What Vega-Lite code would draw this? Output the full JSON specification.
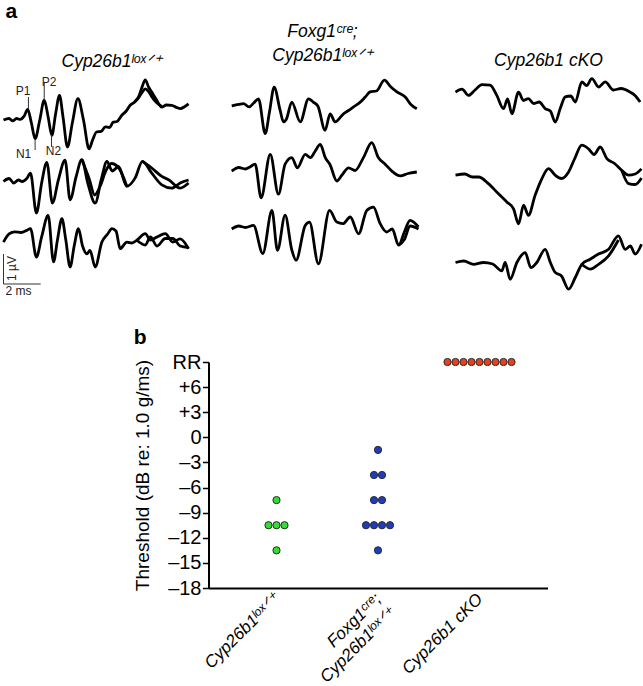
{
  "$schema": "https://vega.github.io/schema/vega-lite/v6.json",
  "padding": {"left": -2.5, "top": 0, "right": 0, "bottom": 0},
  "background": "white",
  "config": {
    "view": {"stroke": null},
    "font": "Liberation Sans",
    "title": {"font": "Liberation Sans", "color": "black", "fontWeight": "normal"}
  },
  "datasets": {
    "traces": [
      {"c":1,"id":"1a","t":0,"v":0.0},{"c":1,"id":"1a","t":0.3,"v":0.05},{"c":1,"id":"1a","t":0.5,"v":-0.03},{"c":1,"id":"1a","t":0.7,"v":0.05},{"c":1,"id":"1a","t":0.9,"v":0.02},{"c":1,"id":"1a","t":1.1,"v":0.12},{"c":1,"id":"1a","t":1.3,"v":0.35},{"c":1,"id":"1a","t":1.5,"v":-0.1},{"c":1,"id":"1a","t":1.7,"v":-0.62},{"c":1,"id":"1a","t":1.95,"v":0.0},{"c":1,"id":"1a","t":2.19,"v":0.66},{"c":1,"id":"1a","t":2.4,"v":0.1},{"c":1,"id":"1a","t":2.6,"v":-0.51},{"c":1,"id":"1a","t":2.8,"v":0.2},{"c":1,"id":"1a","t":3.01,"v":0.82},{"c":1,"id":"1a","t":3.2,"v":0.1},{"c":1,"id":"1a","t":3.44,"v":-0.9},{"c":1,"id":"1a","t":3.7,"v":-0.1},{"c":1,"id":"1a","t":4.0,"v":0.71},{"c":1,"id":"1a","t":4.3,"v":0.0},{"c":1,"id":"1a","t":4.6,"v":-0.96},{"c":1,"id":"1a","t":4.8,"v":-0.65},{"c":1,"id":"1a","t":5.0,"v":-0.4},{"c":1,"id":"1a","t":5.25,"v":-0.38},{"c":1,"id":"1a","t":5.47,"v":-0.23},{"c":1,"id":"1a","t":5.7,"v":-0.25},{"c":1,"id":"1a","t":5.9,"v":-0.07},{"c":1,"id":"1a","t":6.1,"v":-0.05},{"c":1,"id":"1a","t":6.36,"v":0.16},{"c":1,"id":"1a","t":6.6,"v":0.3},{"c":1,"id":"1a","t":6.81,"v":0.49},{"c":1,"id":"1a","t":7.05,"v":0.6},{"c":1,"id":"1a","t":7.26,"v":0.77},{"c":1,"id":"1a","t":7.45,"v":1.1},{"c":1,"id":"1a","t":7.62,"v":1.34},{"c":1,"id":"1a","t":7.8,"v":1.1},{"c":1,"id":"1a","t":7.97,"v":0.93},{"c":1,"id":"1a","t":8.2,"v":0.7},{"c":1,"id":"1a","t":8.51,"v":0.43},{"c":1,"id":"1a","t":8.75,"v":0.5},{"c":1,"id":"1a","t":9.05,"v":0.49},{"c":1,"id":"1a","t":9.3,"v":0.42},{"c":1,"id":"1a","t":9.5,"v":0.38},{"c":1,"id":"1a","t":9.75,"v":0.45},{"c":1,"id":"1a","t":9.95,"v":0.54},
      {"c":1,"id":"1b","t":7.05,"v":0.6},{"c":1,"id":"1b","t":7.26,"v":0.74},{"c":1,"id":"1b","t":7.45,"v":0.92},{"c":1,"id":"1b","t":7.62,"v":1.04},{"c":1,"id":"1b","t":7.8,"v":0.95},{"c":1,"id":"1b","t":7.97,"v":0.78},{"c":1,"id":"1b","t":8.2,"v":0.6},{"c":1,"id":"1b","t":8.51,"v":0.45},
      {"c":1,"id":"2a","t":0,"v":-2.05},{"c":1,"id":"2a","t":0.3,"v":-1.95},{"c":1,"id":"2a","t":0.55,"v":-2.1},{"c":1,"id":"2a","t":0.8,"v":-2.0},{"c":1,"id":"2a","t":1.0,"v":-2.05},{"c":1,"id":"2a","t":1.25,"v":-1.95},{"c":1,"id":"2a","t":1.45,"v":-1.77},{"c":1,"id":"2a","t":1.77,"v":-3.1},{"c":1,"id":"2a","t":2.05,"v":-2.1},{"c":1,"id":"2a","t":2.33,"v":-1.41},{"c":1,"id":"2a","t":2.63,"v":-2.77},{"c":1,"id":"2a","t":2.95,"v":-2.0},{"c":1,"id":"2a","t":3.31,"v":-1.34},{"c":1,"id":"2a","t":3.58,"v":-2.66},{"c":1,"id":"2a","t":3.9,"v":-1.9},{"c":1,"id":"2a","t":4.21,"v":-1.32},{"c":1,"id":"2a","t":4.53,"v":-2.1},{"c":1,"id":"2a","t":4.93,"v":-2.77},{"c":1,"id":"2a","t":5.25,"v":-2.0},{"c":1,"id":"2a","t":5.56,"v":-1.38},{"c":1,"id":"2a","t":5.85,"v":-1.7},{"c":1,"id":"2a","t":6.18,"v":-1.55},{"c":1,"id":"2a","t":6.63,"v":-2.21},{"c":1,"id":"2a","t":7.08,"v":-1.93},{"c":1,"id":"2a","t":7.47,"v":-1.38},{"c":1,"id":"2a","t":7.97,"v":-1.77},{"c":1,"id":"2a","t":8.51,"v":-2.16},{"c":1,"id":"2a","t":9.05,"v":-2.27},{"c":1,"id":"2a","t":9.5,"v":-2.1},{"c":1,"id":"2a","t":9.95,"v":-2.0},
      {"c":1,"id":"2b","t":4.21,"v":-1.32},{"c":1,"id":"2b","t":4.6,"v":-1.95},{"c":1,"id":"2b","t":4.9,"v":-2.5},{"c":1,"id":"2b","t":5.2,"v":-2.2},{"c":1,"id":"2b","t":5.5,"v":-1.7},{"c":1,"id":"2b","t":5.8,"v":-1.45},{"c":1,"id":"2b","t":6.2,"v":-1.6},{"c":1,"id":"2b","t":6.63,"v":-2.21},
      {"c":1,"id":"2c","t":7.47,"v":-1.38},{"c":1,"id":"2c","t":7.97,"v":-1.6},{"c":1,"id":"2c","t":8.51,"v":-1.88},{"c":1,"id":"2c","t":8.9,"v":-2.0},{"c":1,"id":"2c","t":9.5,"v":-2.27},{"c":1,"id":"2c","t":9.95,"v":-2.1},
      {"c":1,"id":"3a","t":0,"v":-4.07},{"c":1,"id":"3a","t":0.3,"v":-3.8},{"c":1,"id":"3a","t":0.6,"v":-3.73},{"c":1,"id":"3a","t":0.95,"v":-3.75},{"c":1,"id":"3a","t":1.25,"v":-3.68},{"c":1,"id":"3a","t":1.45,"v":-3.62},{"c":1,"id":"3a","t":1.77,"v":-4.57},{"c":1,"id":"3a","t":2.05,"v":-3.9},{"c":1,"id":"3a","t":2.4,"v":-3.18},{"c":1,"id":"3a","t":2.69,"v":-4.73},{"c":1,"id":"3a","t":2.9,"v":-4.0},{"c":1,"id":"3a","t":3.14,"v":-3.29},{"c":1,"id":"3a","t":3.35,"v":-4.0},{"c":1,"id":"3a","t":3.58,"v":-4.9},{"c":1,"id":"3a","t":3.8,"v":-4.2},{"c":1,"id":"3a","t":4.03,"v":-3.62},{"c":1,"id":"3a","t":4.25,"v":-4.2},{"c":1,"id":"3a","t":4.48,"v":-4.46},{"c":1,"id":"3a","t":4.65,"v":-4.35},{"c":1,"id":"3a","t":4.93,"v":-4.9},{"c":1,"id":"3a","t":5.29,"v":-4.07},{"c":1,"id":"3a","t":5.6,"v":-3.8},{"c":1,"id":"3a","t":5.83,"v":-3.62},{"c":1,"id":"3a","t":6.05,"v":-3.7},{"c":1,"id":"3a","t":6.27,"v":-4.29},{"c":1,"id":"3a","t":6.63,"v":-4.07},{"c":1,"id":"3a","t":6.9,"v":-4.1},{"c":1,"id":"3a","t":7.17,"v":-4.01},{"c":1,"id":"3a","t":7.62,"v":-3.79},{"c":1,"id":"3a","t":7.9,"v":-4.0},{"c":1,"id":"3a","t":8.25,"v":-3.9},{"c":1,"id":"3a","t":8.7,"v":-3.79},{"c":1,"id":"3a","t":9.1,"v":-4.07},{"c":1,"id":"3a","t":9.5,"v":-3.96},{"c":1,"id":"3a","t":9.95,"v":-4.29},
      {"c":1,"id":"3b","t":7.17,"v":-4.01},{"c":1,"id":"3b","t":7.62,"v":-4.17},{"c":1,"id":"3b","t":7.9,"v":-3.9},{"c":1,"id":"3b","t":8.25,"v":-4.2},{"c":1,"id":"3b","t":8.7,"v":-3.95},{"c":1,"id":"3b","t":9.1,"v":-3.95},{"c":1,"id":"3b","t":9.5,"v":-4.2},{"c":1,"id":"3b","t":9.95,"v":-4.25},
      {"c":2,"id":"4a","t":0.12,"v":0.0},{"c":2,"id":"4a","t":0.5,"v":0.05},{"c":2,"id":"4a","t":0.75,"v":0.08},{"c":2,"id":"4a","t":1.05,"v":-0.03},{"c":2,"id":"4a","t":1.3,"v":0.1},{"c":2,"id":"4a","t":1.56,"v":0.24},{"c":2,"id":"4a","t":1.92,"v":-0.92},{"c":2,"id":"4a","t":2.15,"v":-0.2},{"c":2,"id":"4a","t":2.4,"v":0.63},{"c":2,"id":"4a","t":2.72,"v":-0.14},{"c":2,"id":"4a","t":2.9,"v":-0.53},{"c":2,"id":"4a","t":3.05,"v":-0.45},{"c":2,"id":"4a","t":3.35,"v":0.13},{"c":2,"id":"4a","t":3.8,"v":-0.53},{"c":2,"id":"4a","t":4.25,"v":0.24},{"c":2,"id":"4a","t":4.5,"v":0.13},{"c":2,"id":"4a","t":4.75,"v":0.0},{"c":2,"id":"4a","t":5.14,"v":-0.81},{"c":2,"id":"4a","t":5.41,"v":-0.26},{"c":2,"id":"4a","t":5.68,"v":-0.53},{"c":2,"id":"4a","t":6.13,"v":-0.26},{"c":2,"id":"4a","t":6.4,"v":-0.15},{"c":2,"id":"4a","t":6.67,"v":-0.03},{"c":2,"id":"4a","t":7.03,"v":0.13},{"c":2,"id":"4a","t":7.3,"v":0.3},{"c":2,"id":"4a","t":7.56,"v":0.47},{"c":2,"id":"4a","t":7.9,"v":0.5},{"c":2,"id":"4a","t":8.33,"v":0.86},{"c":2,"id":"4a","t":8.65,"v":0.65},{"c":2,"id":"4a","t":9.0,"v":0.47},{"c":2,"id":"4a","t":9.45,"v":0.3},{"c":2,"id":"4a","t":9.75,"v":0.05},{"c":2,"id":"4a","t":10.07,"v":-0.09},
      {"c":2,"id":"5a","t":0.12,"v":-2.17},{"c":2,"id":"5a","t":0.5,"v":-2.05},{"c":2,"id":"5a","t":0.85,"v":-2.1},{"c":2,"id":"5a","t":1.1,"v":-2.03},{"c":2,"id":"5a","t":1.38,"v":-1.94},{"c":2,"id":"5a","t":1.7,"v":-3.06},{"c":2,"id":"5a","t":2.19,"v":-1.61},{"c":2,"id":"5a","t":2.63,"v":-2.94},{"c":2,"id":"5a","t":2.99,"v":-1.94},{"c":2,"id":"5a","t":3.35,"v":-1.72},{"c":2,"id":"5a","t":3.65,"v":-2.06},{"c":2,"id":"5a","t":4.07,"v":-1.61},{"c":2,"id":"5a","t":4.35,"v":-1.72},{"c":2,"id":"5a","t":4.61,"v":-1.5},{"c":2,"id":"5a","t":4.88,"v":-1.28},{"c":2,"id":"5a","t":5.15,"v":-1.72},{"c":2,"id":"5a","t":5.4,"v":-1.95},{"c":2,"id":"5a","t":5.77,"v":-2.5},{"c":2,"id":"5a","t":6.05,"v":-2.3},{"c":2,"id":"5a","t":6.4,"v":-2.06},{"c":2,"id":"5a","t":6.75,"v":-2.15},{"c":2,"id":"5a","t":7.2,"v":-1.72},{"c":2,"id":"5a","t":7.65,"v":-1.22},{"c":2,"id":"5a","t":8.0,"v":-1.72},{"c":2,"id":"5a","t":8.37,"v":-1.94},{"c":2,"id":"5a","t":8.73,"v":-2.17},{"c":2,"id":"5a","t":9.18,"v":-2.33},{"c":2,"id":"5a","t":9.6,"v":-2.25},{"c":2,"id":"5a","t":10.07,"v":-2.2},
      {"c":2,"id":"6a","t":0.12,"v":-4.1},{"c":2,"id":"6a","t":0.5,"v":-4.0},{"c":2,"id":"6a","t":0.85,"v":-4.05},{"c":2,"id":"6a","t":1.29,"v":-3.98},{"c":2,"id":"6a","t":1.79,"v":-4.92},{"c":2,"id":"6a","t":2.28,"v":-3.48},{"c":2,"id":"6a","t":2.58,"v":-4.81},{"c":2,"id":"6a","t":2.99,"v":-3.64},{"c":2,"id":"6a","t":3.35,"v":-4.8},{"c":2,"id":"6a","t":3.58,"v":-5.14},{"c":2,"id":"6a","t":4.07,"v":-3.98},{"c":2,"id":"6a","t":4.3,"v":-3.87},{"c":2,"id":"6a","t":4.78,"v":-5.26},{"c":2,"id":"6a","t":5.38,"v":-3.48},{"c":2,"id":"6a","t":5.77,"v":-3.87},{"c":2,"id":"6a","t":6.1,"v":-3.92},{"c":2,"id":"6a","t":6.49,"v":-3.7},{"c":2,"id":"6a","t":6.94,"v":-4.26},{"c":2,"id":"6a","t":7.38,"v":-3.48},{"c":2,"id":"6a","t":7.74,"v":-3.37},{"c":2,"id":"6a","t":8.1,"v":-3.92},{"c":2,"id":"6a","t":8.45,"v":-4.2},{"c":2,"id":"6a","t":8.75,"v":-4.1},{"c":2,"id":"6a","t":9.09,"v":-4.64},{"c":2,"id":"6a","t":9.4,"v":-4.2},{"c":2,"id":"6a","t":9.71,"v":-3.81},{"c":2,"id":"6a","t":10.16,"v":-4.03},
      {"c":2,"id":"6b","t":9.09,"v":-4.64},{"c":2,"id":"6b","t":9.4,"v":-4.45},{"c":2,"id":"6b","t":9.71,"v":-4.0},{"c":2,"id":"6b","t":10.16,"v":-4.1},
      {"c":3,"id":"7a","t":0,"v":-0.07},{"c":3,"id":"7a","t":0.35,"v":0.03},{"c":3,"id":"7a","t":0.7,"v":-0.18},{"c":3,"id":"7a","t":1.05,"v":0.0},{"c":3,"id":"7a","t":1.42,"v":0.18},{"c":3,"id":"7a","t":1.86,"v":0.16},{"c":3,"id":"7a","t":2.22,"v":-0.18},{"c":3,"id":"7a","t":2.58,"v":-0.62},{"c":3,"id":"7a","t":2.8,"v":-0.3},{"c":3,"id":"7a","t":3.03,"v":-0.79},{"c":3,"id":"7a","t":3.39,"v":-0.07},{"c":3,"id":"7a","t":3.65,"v":-0.35},{"c":3,"id":"7a","t":3.92,"v":-0.29},{"c":3,"id":"7a","t":4.2,"v":-0.45},{"c":3,"id":"7a","t":4.5,"v":-0.4},{"c":3,"id":"7a","t":4.82,"v":-0.62},{"c":3,"id":"7a","t":5.1,"v":-0.7},{"c":3,"id":"7a","t":5.36,"v":-1.07},{"c":3,"id":"7a","t":5.63,"v":-0.62},{"c":3,"id":"7a","t":5.9,"v":-0.23},{"c":3,"id":"7a","t":6.2,"v":-0.2},{"c":3,"id":"7a","t":6.44,"v":-0.4},{"c":3,"id":"7a","t":6.79,"v":0.27},{"c":3,"id":"7a","t":7.05,"v":0.15},{"c":3,"id":"7a","t":7.33,"v":0.38},{"c":3,"id":"7a","t":7.7,"v":0.1},{"c":3,"id":"7a","t":8.05,"v":0.27},{"c":3,"id":"7a","t":8.49,"v":0.0},{"c":3,"id":"7a","t":8.9,"v":0.05},{"c":3,"id":"7a","t":9.39,"v":-0.07},{"c":3,"id":"7a","t":9.65,"v":-0.18},{"c":3,"id":"7a","t":9.93,"v":-0.4},
      {"c":3,"id":"8a","t":0,"v":-2.84},{"c":3,"id":"8a","t":0.5,"v":-2.8},{"c":3,"id":"8a","t":0.9,"v":-2.9},{"c":3,"id":"8a","t":1.24,"v":-2.9},{"c":3,"id":"8a","t":1.77,"v":-3.12},{"c":3,"id":"8a","t":2.31,"v":-3.46},{"c":3,"id":"8a","t":2.76,"v":-3.73},{"c":3,"id":"8a","t":3.12,"v":-3.96},{"c":3,"id":"8a","t":3.39,"v":-4.46},{"c":3,"id":"8a","t":3.66,"v":-3.84},{"c":3,"id":"8a","t":3.92,"v":-4.18},{"c":3,"id":"8a","t":4.28,"v":-3.51},{"c":3,"id":"8a","t":4.64,"v":-2.96},{"c":3,"id":"8a","t":5.0,"v":-2.62},{"c":3,"id":"8a","t":5.36,"v":-2.84},{"c":3,"id":"8a","t":5.7,"v":-2.95},{"c":3,"id":"8a","t":6.08,"v":-2.73},{"c":3,"id":"8a","t":6.4,"v":-2.3},{"c":3,"id":"8a","t":6.79,"v":-1.84},{"c":3,"id":"8a","t":7.15,"v":-1.96},{"c":3,"id":"8a","t":7.45,"v":-2.15},{"c":3,"id":"8a","t":7.78,"v":-1.9},{"c":3,"id":"8a","t":8.14,"v":-2.29},{"c":3,"id":"8a","t":8.55,"v":-2.45},{"c":3,"id":"8a","t":8.94,"v":-2.68},{"c":3,"id":"8a","t":9.3,"v":-2.84},{"c":3,"id":"8a","t":9.66,"v":-2.8},{"c":3,"id":"8a","t":10.0,"v":-2.63},
      {"c":3,"id":"8b","t":8.94,"v":-2.68},{"c":3,"id":"8b","t":9.3,"v":-3.12},{"c":3,"id":"8b","t":9.66,"v":-3.15},{"c":3,"id":"8b","t":10.0,"v":-2.93},
      {"c":3,"id":"9a","t":0,"v":-5.75},{"c":3,"id":"9a","t":0.45,"v":-5.7},{"c":3,"id":"9a","t":0.97,"v":-5.81},{"c":3,"id":"9a","t":1.5,"v":-5.75},{"c":3,"id":"9a","t":2.0,"v":-5.8},{"c":3,"id":"9a","t":2.49,"v":-6.03},{"c":3,"id":"9a","t":2.67,"v":-5.75},{"c":3,"id":"9a","t":2.94,"v":-6.31},{"c":3,"id":"9a","t":3.3,"v":-5.75},{"c":3,"id":"9a","t":3.75,"v":-5.42},{"c":3,"id":"9a","t":4.05,"v":-5.92},{"c":3,"id":"9a","t":4.37,"v":-5.75},{"c":3,"id":"9a","t":4.82,"v":-5.31},{"c":3,"id":"9a","t":5.1,"v":-5.75},{"c":3,"id":"9a","t":5.36,"v":-6.08},{"c":3,"id":"9a","t":5.7,"v":-6.2},{"c":3,"id":"9a","t":6.08,"v":-6.64},{"c":3,"id":"9a","t":6.44,"v":-6.25},{"c":3,"id":"9a","t":6.79,"v":-5.81},{"c":3,"id":"9a","t":7.24,"v":-5.64},{"c":3,"id":"9a","t":7.69,"v":-5.47},{"c":3,"id":"9a","t":8.23,"v":-5.31},{"c":3,"id":"9a","t":8.76,"v":-4.86},{"c":3,"id":"9a","t":9.12,"v":-5.31},{"c":3,"id":"9a","t":9.4,"v":-5.2},{"c":3,"id":"9a","t":9.66,"v":-5.47},{"c":3,"id":"9a","t":10.0,"v":-5.14},
      {"c":3,"id":"9b","t":6.79,"v":-5.81},{"c":3,"id":"9b","t":7.24,"v":-5.97},{"c":3,"id":"9b","t":7.69,"v":-5.81},{"c":3,"id":"9b","t":8.23,"v":-5.53},{"c":3,"id":"9b","t":8.76,"v":-5.0}
    ],
    "ann": [
      {"kind":"rule","t":0,"t2":0,"v":-4.467,"v2":-5.467},
      {"kind":"rule","t":0,"t2":2,"v":-5.467,"v2":-5.467},
      {"kind":"rule","t":1.34,"t2":1.34,"v":0.767,"v2":0.367},
      {"kind":"rule","t":2.19,"t2":2.19,"v":1.267,"v2":0.667},
      {"kind":"rule","t":1.7,"t2":1.7,"v":-0.667,"v2":-1.0},
      {"kind":"rule","t":2.58,"t2":2.58,"v":-0.5,"v2":-0.9},
      {"kind":"text","t":1.05,"v":0.967,"label":"P1"},
      {"kind":"text","t":2.45,"v":1.283,"label":"P2"},
      {"kind":"text","t":1.08,"v":-1.15,"label":"N1"},
      {"kind":"text","t":2.69,"v":-1.05,"label":"N2"},
      {"kind":"text","t":0.81,"v":-5.7,"label":"2 ms"},
      {"kind":"vtext","t":0.48,"v":-4.95,"label":"1 µV"}
    ],
    "dots": [
      {"g":"Cyp26b1ˡᵒˣᐟ⁺","db":-7.5,"k":0},
      {"g":"Cyp26b1ˡᵒˣᐟ⁺","db":-10.5,"k":-1},
      {"g":"Cyp26b1ˡᵒˣᐟ⁺","db":-10.5,"k":0},
      {"g":"Cyp26b1ˡᵒˣᐟ⁺","db":-10.5,"k":1},
      {"g":"Cyp26b1ˡᵒˣᐟ⁺","db":-13.5,"k":0},
      {"g":"Foxg1ᶜʳᵉ;|Cyp26b1ˡᵒˣᐟ⁺","db":-1.5,"k":0},
      {"g":"Foxg1ᶜʳᵉ;|Cyp26b1ˡᵒˣᐟ⁺","db":-4.5,"k":-0.5},
      {"g":"Foxg1ᶜʳᵉ;|Cyp26b1ˡᵒˣᐟ⁺","db":-4.5,"k":0.5},
      {"g":"Foxg1ᶜʳᵉ;|Cyp26b1ˡᵒˣᐟ⁺","db":-7.5,"k":-0.5},
      {"g":"Foxg1ᶜʳᵉ;|Cyp26b1ˡᵒˣᐟ⁺","db":-7.5,"k":0.5},
      {"g":"Foxg1ᶜʳᵉ;|Cyp26b1ˡᵒˣᐟ⁺","db":-10.5,"k":-1.5},
      {"g":"Foxg1ᶜʳᵉ;|Cyp26b1ˡᵒˣᐟ⁺","db":-10.5,"k":-0.5},
      {"g":"Foxg1ᶜʳᵉ;|Cyp26b1ˡᵒˣᐟ⁺","db":-10.5,"k":0.5},
      {"g":"Foxg1ᶜʳᵉ;|Cyp26b1ˡᵒˣᐟ⁺","db":-10.5,"k":1.5},
      {"g":"Foxg1ᶜʳᵉ;|Cyp26b1ˡᵒˣᐟ⁺","db":-13.5,"k":0},
      {"g":"Cyp26b1 cKO","db":9,"k":-4},
      {"g":"Cyp26b1 cKO","db":9,"k":-3},
      {"g":"Cyp26b1 cKO","db":9,"k":-2},
      {"g":"Cyp26b1 cKO","db":9,"k":-1},
      {"g":"Cyp26b1 cKO","db":9,"k":0},
      {"g":"Cyp26b1 cKO","db":9,"k":1},
      {"g":"Cyp26b1 cKO","db":9,"k":2},
      {"g":"Cyp26b1 cKO","db":9,"k":3},
      {"g":"Cyp26b1 cKO","db":9,"k":4}
    ]
  },
  "align": "none",
  "spacing": 25,
  "vconcat": [
    {
      "title": {"text": "a", "anchor": "start", "frame": "group", "fontSize": 21, "fontWeight": "bold", "offset": 1, "dx": 2},
      "bounds": "flush",
      "spacing": 40,
      "hconcat": [
        {
          "title": {"text": "Cyp26b1ˡᵒˣᐟ⁺", "fontSize": 17.5, "fontStyle": "italic", "offset": 2, "anchor": "start", "frame": "group", "dx": 58},
          "width": 186, "height": 230,
          "layer": [
            {
              "data": {"name": "traces"},
              "transform": [{"filter": "datum.c == 1"}],
              "mark": {"type": "line", "interpolate": "monotone", "color": "black", "strokeWidth": 2.8},
              "encoding": {
                "x": {"field": "t", "type": "quantitative", "scale": {"domain": [0, 10], "nice": false, "zero": false}, "axis": null},
                "y": {"field": "v", "type": "quantitative", "scale": {"domain": [-6.067, 1.6], "nice": false, "zero": false}, "axis": null},
                "detail": {"field": "id"}
              }
            },
            {
              "data": {"name": "ann"},
              "transform": [{"filter": "datum.kind == 'rule'"}],
              "mark": {"type": "rule", "color": "#333", "strokeWidth": 1},
              "encoding": {
                "x": {"field": "t", "type": "quantitative"},
                "x2": {"field": "t2"},
                "y": {"field": "v", "type": "quantitative"},
                "y2": {"field": "v2"}
              }
            },
            {
              "data": {"name": "ann"},
              "transform": [{"filter": "datum.kind == 'text'"}],
              "mark": {"type": "text", "fontSize": 12, "align": "center", "baseline": "middle", "color": "#222"},
              "encoding": {
                "x": {"field": "t", "type": "quantitative"},
                "y": {"field": "v", "type": "quantitative"},
                "text": {"field": "label"}
              }
            },
            {
              "data": {"name": "ann"},
              "transform": [{"filter": "datum.kind == 'vtext'"}],
              "mark": {"type": "text", "fontSize": 12, "align": "center", "baseline": "middle", "angle": 270, "color": "#222"},
              "encoding": {
                "x": {"field": "t", "type": "quantitative"},
                "y": {"field": "v", "type": "quantitative"},
                "text": {"field": "label"}
              }
            }
          ]
        },
        {
          "title": {"text": ["Foxg1ᶜʳᵉ;", "Cyp26b1ˡᵒˣᐟ⁺"], "fontSize": 17.5, "fontStyle": "italic", "lineHeight": 24, "offset": 8},
          "width": 186, "height": 230,
          "data": {"name": "traces"},
          "transform": [{"filter": "datum.c == 2"}],
          "mark": {"type": "line", "interpolate": "monotone", "color": "black", "strokeWidth": 2.8},
          "encoding": {
            "x": {"field": "t", "type": "quantitative", "scale": {"domain": [0, 10], "nice": false, "zero": false}, "axis": null},
            "y": {"field": "v", "type": "quantitative", "scale": {"domain": [-6.533, 1.133], "nice": false, "zero": false}, "axis": null},
            "detail": {"field": "id"}
          }
        },
        {
          "title": {"text": "Cyp26b1 cKO", "fontSize": 17.5, "fontStyle": "italic", "offset": 3},
          "width": 186, "height": 230,
          "data": {"name": "traces"},
          "transform": [{"filter": "datum.c == 3"}],
          "mark": {"type": "line", "interpolate": "monotone", "color": "black", "strokeWidth": 2.8},
          "encoding": {
            "x": {"field": "t", "type": "quantitative", "scale": {"domain": [0, 10], "nice": false, "zero": false}, "axis": null},
            "y": {"field": "v", "type": "quantitative", "scale": {"domain": [-7.067, 0.6], "nice": false, "zero": false}, "axis": null},
            "detail": {"field": "id"}
          }
        }
      ]
    },
    {
      "bounds": "flush",
      "spacing": 0,
      "hconcat": [
        {"width": 205, "height": 10, "data": {"values": []}, "mark": {"type": "point", "opacity": 0}},
        {
          "title": {"text": "b", "anchor": "start", "frame": "bounds", "fontSize": 21, "fontWeight": "bold", "offset": 4},
          "width": 339, "height": 226,
          "data": {"name": "dots"},
          "mark": {"type": "circle", "size": 52, "opacity": 1, "stroke": "#2a2a2a", "strokeWidth": 1},
          "encoding": {
            "x": {
              "field": "g", "type": "nominal",
              "scale": {"type": "point", "padding": 0.67, "domain": ["Cyp26b1ˡᵒˣᐟ⁺", "Foxg1ᶜʳᵉ;|Cyp26b1ˡᵒˣᐟ⁺", "Cyp26b1 cKO"]},
              "axis": {"title": null, "ticks": false, "labelAngle": -45, "labelAlign": "right", "labelBaseline": "middle", "labelExpr": "split(datum.value, '|')", "labelFontSize": 17, "labelFontStyle": "italic", "labelColor": "black", "labelPadding": 8, "labelLineHeight": 20, "domainColor": "black", "domainWidth": 2, "grid": false}
            },
            "xOffset": {"field": "k", "type": "quantitative", "scale": {"domain": [-4, 4], "range": [-32, 32]}},
            "y": {
              "field": "db", "type": "quantitative",
              "scale": {"domain": [-18, 9], "nice": false, "zero": false},
              "axis": {"title": "Threshold (dB re: 1.0 g/ms)", "titleFontSize": 19, "titleFontWeight": "normal", "titleColor": "black", "titlePadding": 15, "values": [-18, -15, -12, -9, -6, -3, 0, 3, 6, 9], "labelExpr": "datum.value == 9 ? 'RR' : datum.value > 0 ? '+' + datum.value : datum.value < 0 ? '–' + abs(datum.value) : '0'", "labelFontSize": 20, "labelColor": "black", "labelPadding": 1.5, "tickSize": 6, "tickWidth": 1.5, "tickColor": "black", "domainColor": "black", "domainWidth": 2, "grid": false}
            },
            "color": {"field": "g", "type": "nominal", "scale": {"domain": ["Cyp26b1ˡᵒˣᐟ⁺", "Foxg1ᶜʳᵉ;|Cyp26b1ˡᵒˣᐟ⁺", "Cyp26b1 cKO"], "range": ["#33dd33", "#1f3cc0", "#e8401c"]}, "legend": null}
          }
        }
      ]
    }
  ]
}
